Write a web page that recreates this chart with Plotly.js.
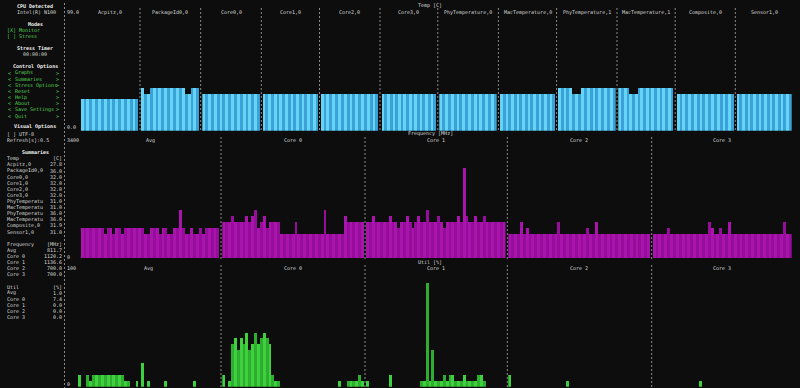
<!DOCTYPE html>
<html><head><meta charset="utf-8">
<script src="https://cdn.plot.ly/plotly-3.0.1.min.js"></script>
<style>html,body{margin:0;padding:0;background:#0d0d0d;overflow:hidden}#chart{width:800px;height:388px}</style>
</head><body><div id="chart"></div>
<script>
// ---------------- DATA ----------------
const cpuName = 'Intel(R) N100';
const tempSensors = ['Acpitz,0','PackageId0,0','Core0,0','Core1,0','Core2,0','Core3,0','PhyTemperature,0','MacTemperature,0','PhyTemperature,1','MacTemperature,1','Composite,0','Sensor1,0'];
const tempAcpitz  = [27.5,27.5,27.5,27.5,27.5,27.5,27.5,27.5,27.5,27.5,27.5,27.5,27.5,27.5,27.5,27.5,27.5,27.5,27.5,27.5];
const tempPackage = [37.5,32,32,37.5,37.5,37.5,37.5,37.5,37.5,37.5,37.5,37.5,37.5,37.5,37.5,32,32,37.5,37.5,37.5];
const tempCore0   = [32,32,32,32,32,32,32,32,32,32,32,32,32,32,32,32,32,32,32,32];
const tempCore1   = [32,32,32,32,32,32,32,32,32,32,32,32,32,32,32,32,32,32,32,32];
const tempCore2   = [32,32,32,32,32,32,32,32,32,32,32,32,32,32,32,32,32,32,32,32];
const tempCore3   = [32,32,32,32,32,32,32,32,32,32,32,32,32,32,32,32,32,32,32,32];
const tempPhy0    = [32,32,32,32,32,32,32,32,32,32,32,32,32,32,32,32,32,32,32,32];
const tempMac0    = [32,32,32,32,32,32,32,32,32,32,32,32,32,32,32,32,32,32,32,32];
const tempPhy1    = [37.5,37.5,37.5,37.5,37.5,32,32,32,37.5,37.5,37.5,37.5,37.5,37.5,37.5,37.5,37.5,37.5,37.5,37.5];
const tempMac1    = [37.5,37.5,37.5,37.5,32,32,32,37.5,37.5,37.5,37.5,37.5,37.5,37.5,37.5,37.5,37.5,37.5,37.5,37.5];
const tempComp    = [32,32,32,32,32,32,32,32,32,32,32,32,32,32,32,32,32,32,32,32];
const tempSensor1 = [32,32,32,32,32,32,32,32,32,32,32,32,32,32,32,32,32,32,32,32];

const coreLabels = ['Avg','Core 0','Core 1','Core 2','Core 3'];
const freqAvg   = [875,875,875,875,875,875,875,875,700,875,875,700,875,875,700,875,875,875,875,875,875,875,700,700,875,875,875,700,875,875,700,700,875,875,1400,875,700,700,875,700,700,875,700,875,875,875,875,875];
const freqCore0 = [1050,1050,1050,1220,1050,1050,1050,1050,1220,1050,1220,1400,875,1050,1220,875,1050,1050,1050,1050,700,700,700,700,700,1050,700,700,700,700,700,700,700,700,700,1400,700,700,700,700,700,700,1220,1050,1050,1050,1050,1050,1050];
const freqCore1 = [1050,1050,1220,1050,1050,1050,1050,1050,1220,1050,1050,875,1050,1050,1220,1050,875,1050,1220,1050,1050,1400,1050,1050,1050,1220,1050,875,1050,1050,1050,1050,1220,1050,2640,1220,1050,1050,1220,1050,1050,1220,1050,1050,1050,1050,1050,1050,1050];
const freqCore2 = [700,700,700,700,1050,700,875,700,700,700,700,700,700,700,700,700,700,1050,700,700,700,700,700,700,700,700,700,875,700,700,1050,700,700,700,700,700,700,700,700,700,700,700,700,700,700,700,700,700,700];
const freqCore3 = [700,700,700,700,700,875,700,700,700,700,700,700,700,700,700,700,700,700,700,1050,875,700,700,875,700,700,1050,700,700,700,700,700,700,700,700,700,700,700,700,700,700,700,700,700,700,1050,700,700];

const utilAvg   = [10,0,0,10,5,10,10,10,10,10,10,10,10,10,10,10,5,5,0,0,5,0,20,0,5,0,0,0,0,0,5,0,0,0,0,0,0,0,0,0,5,0,0,0,0,0,0,0,0];
const utilCore0 = [10,0,5,36,41,31,41,36,46,31,36,46,36,41,46,41,36,10,5,5,0,0,0,0,0,0,0,0,0,0,0,0,0,0,0,0,0,0,0,0,5,0,0,5,5,5,5,10,5];
const utilCore1 = [5,0,0,0,0,0,0,0,10,0,0,0,0,0,0,0,0,0,0,5,5,88,5,31,5,5,5,10,5,10,10,5,5,5,10,5,5,5,5,10,10,5,0,0,0,0,0,0,0];
const utilCore2 = [10,0,0,0,0,0,0,0,0,0,0,0,0,0,0,0,0,0,0,0,5,0,0,0,0,0,0,0,0,0,0,0,0,0,0,0,0,0,0,0,0,0,0,0,0,0,0,0,0];
const utilCore3 = [0,0,0,0,0,0,0,0,0,0,0,0,0,0,0,0,5,0,0,0,0,0,0,0,0,0,0,0,0,0,0,0,0,0,0,0,0,0,0,0,0,0,0,0,0,0,0,0];

const tempYLabels = ['99.0','0.0'];
const freqYLabels = ['3400','0'];
const utilYLabels = ['100','0'];
const tempMax = 99, freqMax = 3400, utilMax = 100;

const sumTempNames = ['Acpitz,0','PackageId0,0','Core0,0','Core1,0','Core2,0','Core3,0','PhyTemperatu','MacTemperatu','PhyTemperatu','MacTemperatu','Composite,0','Sensor1,0'];
const sumTempVals  = ['27.8','36.0','32.0','32.0','32.0','32.0','31.0','31.0','36.0','36.0','31.9','31.0'];
const sumFreqVals  = ['811.7','1120.2','1136.6','700.0','700.0'];
const sumUtilVals  = ['1.0','7.4','0.0','0.0','0.0'];
const controlOptions = ['Graphs','Summaries','Stress Options','Reset','Help','About','Save Settings','Quit'];

// ---------------- LAYOUT ----------------
const W = 800, H = 388;
const FONT = 'DejaVu Sans Mono, monospace';
const FS = 5.0;
const BG = '#0d0d0d';
const TXT = '#d6d6d6', HEAD = '#f0f0f0', GREEN = '#52d352';
const px = v => v / W, py = v => 1 - v / H;

const tempSeries = [tempAcpitz,tempPackage,tempCore0,tempCore1,tempCore2,tempCore3,tempPhy0,tempMac0,tempPhy1,tempMac1,tempComp,tempSensor1];
const freqSeries = [freqAvg,freqCore0,freqCore1,freqCore2,freqCore3];
const utilSeries = [utilAvg,utilCore0,utilCore1,utilCore2,utilCore3];

const tempPx = [[80.7,138.3],[141,199.3],[202.3,260],[262.7,318.3],[320.7,378.3],[381.7,436],[439.3,496.7],[500,555],[557.7,615.7],[618.3,673.3],[676.7,734],[736.7,791.7]];
const freqPx = [[80.7,219.3],[222.3,364],[366,505.5],[508.3,650],[652.7,791.7]];
const utilPx = [[77.8,219.3],[222.3,364],[366,505.5],[508.3,650],[652.7,791.7]];
const tempSeps = [140,200.7,261.3,319.5,380,437.8,498.4,556.6,617,675.2,735.3];
const fuSeps = [221,365,507.3,651.7];

const rows = [
  {series: tempSeries, pxs: tempPx, yax: 'y',  yb: 130.7, yt: 18.1,  max: tempMax, c: ['#66d4f6','#3ba2d8'], labels: tempSensors, ly: 12.2, seps: tempSeps, sy: [8,131], title: 'Temp [C]', ty: 5.5, yl: tempYLabels, ylT: 12.2, ylB: 127.3},
  {series: freqSeries, pxs: freqPx, yax: 'y2', yb: 258.3, yt: 141.7, max: freqMax, c: ['#a814ac','#950d9a'], labels: coreLabels, ly: 140.3, seps: fuSeps, sy: [137,259.5], title: 'Frequency [MHz]', ty: 133.8, yl: freqYLabels, ylT: 140.3, ylB: 256.8},
  {series: utilSeries, pxs: utilPx, yax: 'y3', yb: 386.7, yt: 269, max: utilMax, c: ['#3fd03f','#2eae2e'], labels: coreLabels, ly: 268.4, seps: fuSeps, sy: [265,388], title: 'Util [%]', ty: 262.2, yl: utilYLabels, ylT: 268.4, ylB: 384.3}
];

const traces = [];
const layout = {
  width: W, height: H, margin: {l:0,r:0,t:0,b:0,pad:0},
  paper_bgcolor: BG, plot_bgcolor: BG, showlegend: false,
  bargap: 0, annotations: [], shapes: [], hovermode: false
};
const ann = (text, x, y, anchor, color, extra) => Object.assign({
  text, x: px(x), y: py(y), xref: 'paper', yref: 'paper', showarrow: false,
  xanchor: anchor, yanchor: 'middle', borderpad: 0,
  font: {family: FONT, size: FS, color}
}, extra || {});

let axN = 0;
rows.forEach((r, ri) => {
  const yName = r.yax === 'y' ? 'yaxis' : 'yaxis' + r.yax.slice(1);
  const firstX = axN + 1;
  layout[yName] = {domain: [py(r.yb), py(r.yt)], range: [0, r.max], visible: false, fixedrange: true,
                   anchor: firstX === 1 ? 'x' : 'x' + firstX};
  r.series.forEach((vals, i) => {
    axN++;
    const xName = axN === 1 ? 'xaxis' : 'xaxis' + axN;
    const xRef = axN === 1 ? 'x' : 'x' + axN;
    layout[xName] = {domain: [px(r.pxs[i][0]), px(r.pxs[i][1])], range: [-0.5, vals.length - 0.5],
                     visible: false, fixedrange: true, anchor: r.yax};
    traces.push({type: 'bar', y: vals, xaxis: xRef, yaxis: r.yax, width: 1,
      marker: {color: vals.map((v, k) => r.c[k % 2]), line: {width: 0}}, hoverinfo: 'skip'});
    layout.annotations.push(ann(r.labels[i], (r.pxs[i][0] + r.pxs[i][1]) / 2, r.ly, 'center', TXT));
  });
  r.seps.forEach(s => layout.shapes.push({type: 'line', xref: 'paper', yref: 'paper',
    x0: px(s), x1: px(s), y0: py(r.sy[0]), y1: py(r.sy[1]), line: {color: '#8a8a8a', width: 1, dash: '2px,2px'}}));
  layout.annotations.push(ann(r.title, 430, r.ty, 'center', TXT));
  layout.annotations.push(ann(r.yl[0], 66, r.ylT, 'left', TXT));
  layout.annotations.push(ann(r.yl[1], 66, r.ylB, 'left', TXT));
});

// sidebar separator
layout.shapes.push({type: 'line', xref: 'paper', yref: 'paper', x0: px(64.5), x1: px(64.5), y0: py(3), y1: py(388),
  line: {color: '#8a8a8a', width: 1, dash: '2px,2px'}});

// sidebar text
const A = layout.annotations;
const bold = s => '<b>' + s + '</b>';
A.push(ann(bold('CPU Detected'), 35, 6, 'center', HEAD));
A.push(ann(cpuName, 36, 12.3, 'center', TXT));
A.push(ann(bold('Modes'), 35, 24.2, 'center', HEAD));
A.push(ann('[X] Monitor', 5.5, 30.2, 'left', GREEN));
A.push(ann('[ ] Stress', 5.5, 36.2, 'left', GREEN));
A.push(ann(bold('Stress Timer'), 35, 48.3, 'center', HEAD));
A.push(ann('00:00:00', 35, 54.3, 'center', TXT));
A.push(ann(bold('Control Options'), 35, 66.8, 'center', HEAD));
controlOptions.forEach((o, i) => {
  const y = 72.8 + i * 6.1;
  A.push(ann('&lt;', 7.3, y, 'left', GREEN));
  A.push(ann(o, 13.5, y, 'left', GREEN));
  A.push(ann('&gt;', 60.3, y, 'right', GREEN));
});
A.push(ann(bold('Visual Options'), 35, 127, 'center', HEAD));
A.push(ann('[ ] UTF-8', 5.5, 134, 'left', TXT));
A.push(ann('Refresh[s]:0.5', 5.5, 140, 'left', TXT));
A.push(ann(bold('Summaries'), 35, 152.2, 'center', HEAD));
A.push(ann('Temp', 5.5, 158.3, 'left', TXT));
A.push(ann('[C]', 63, 158.3, 'right', TXT));
sumTempNames.forEach((n, i) => {
  const y = 164.4 + i * 6.1;
  A.push(ann(n, 5.5, y, 'left', TXT));
  A.push(ann(sumTempVals[i], 63, y, 'right', TXT));
});
A.push(ann('Frequency', 5.5, 244.3, 'left', TXT));
A.push(ann('[MHz]', 63, 244.3, 'right', TXT));
coreLabels.forEach((n, i) => {
  const y = 250.3 + i * 6.0;
  A.push(ann(n, 5.5, y, 'left', TXT));
  A.push(ann(sumFreqVals[i], 63, y, 'right', TXT));
});
A.push(ann('Util', 5.5, 286.7, 'left', TXT));
A.push(ann('[%]', 63, 286.7, 'right', TXT));
coreLabels.forEach((n, i) => {
  const y = 292.7 + i * 6.02;
  A.push(ann(n, 5.5, y, 'left', TXT));
  A.push(ann(sumUtilVals[i], 63, y, 'right', TXT));
});

Plotly.newPlot('chart', traces, layout, {staticPlot: true, displayModeBar: false});
</script>
</body></html>
